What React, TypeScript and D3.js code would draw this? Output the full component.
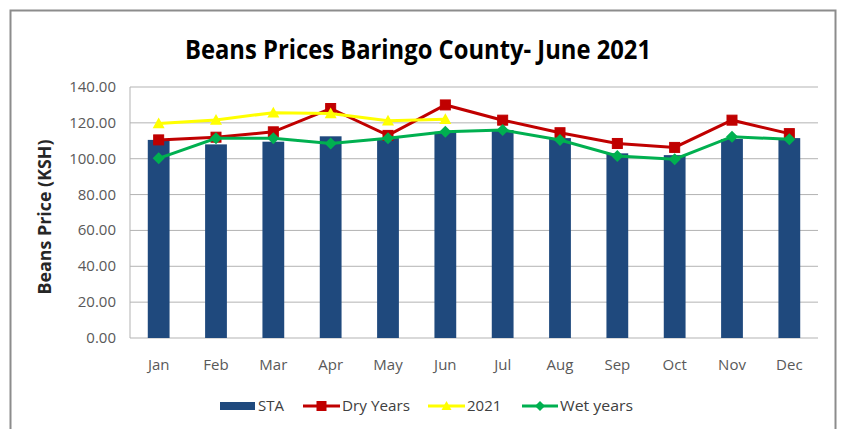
import React from "react";
import * as d3 from "d3";

const months = ["Jan", "Feb", "Mar", "Apr", "May", "Jun", "Jul", "Aug", "Sep", "Oct", "Nov", "Dec"];
const staValues = [110.5, 108, 109.5, 112.5, 111.5, 115, 116, 111.5, 103, 102, 111, 111.5];
const dryYears = [110.5, 112, 115, 128, 113, 130, 121.5, 114.5, 108.5, 106.3, 121.5, 114];
const y2021 = [119.7, 121.6, 125.7, 125.2, 121.2, 122];
const wetYears = [100.2, 111.4, 111.4, 108.5, 111.4, 115, 116, 110.4, 101.5, 99.7, 112.3, 110.8];
const yTicks = [0, 20, 40, 60, 80, 100, 120, 140];

const W = 841;
const H = 429;
const FONT = "'Open Sans', 'DejaVu Sans', sans-serif";
const plot = { left: 130, right: 818, top: 87, bottom: 338 };

export default function App() {
  const x = d3.scaleBand<string>().domain(months).range([plot.left, plot.right]).paddingInner(0.62).paddingOuter(0.31);
  const y = d3.scaleLinear().domain([0, 140]).range([plot.bottom, plot.top]);
  const cx = (m: string) => (x(m) as number) + x.bandwidth() / 2;
  const line = d3.line<number>().x((_, i) => cx(months[i])).y((v) => y(v));

  const square = (px: number, py: number, k: string, s = 10) => (
    <rect key={k} x={px - s / 2} y={py - s / 2} width={s} height={s} fill="#C00000" stroke="#C00000" />
  );
  const diamond = (px: number, py: number, k: string, s = 6) => (
    <path key={k} d={`M${px},${py - s}L${px + s},${py}L${px},${py + s}L${px - s},${py}Z`} fill="#00B050" />
  );
  const tri = (px: number, py: number, k: string, s = 6) => (
    <path key={k} d={`M${px},${py - s}L${px + s},${py + s * 0.8}L${px - s},${py + s * 0.8}Z`} fill="#FFFF00" />
  );

  const legendY = 406;
  return (
    <div style={{ position: "absolute", left: 0, top: 0 }}>
      <svg width={W} height={H} style={{ display: "block", background: "#fff" }}>
        <rect x={10.5} y={10.5} width={825} height={440} fill="#fff" stroke="#8c8c8c" strokeWidth={2} />
        <text x={418} y={59} textAnchor="middle" fontFamily={FONT} fontWeight="bold" fontSize={26} fill="#000" textLength={466} lengthAdjust="spacingAndGlyphs">
          Beans Prices Baringo County- June 2021
        </text>
        {yTicks.map((t) => (
          <g key={t}>
            <line x1={plot.left} x2={plot.right} y1={y(t)} y2={y(t)} stroke="#b3b3b3" strokeWidth={1} />
            <text x={116} y={y(t) + 5} textAnchor="end" fontFamily={FONT} fontSize={15} fill="#595959">
              {t.toFixed(2)}
            </text>
          </g>
        ))}
        <line x1={plot.left} x2={plot.left} y1={plot.top} y2={plot.bottom} stroke="#b3b3b3" />
        <text transform={`translate(51,${217}) rotate(-90)`} textAnchor="middle" fontFamily={FONT} fontWeight="bold" fontSize={17} fill="#262626" textLength={155} lengthAdjust="spacingAndGlyphs">
          Beans Price (KSH)
        </text>
        {months.map((m, i) => (
          <g key={m}>
            <rect x={x(m)} y={y(staValues[i])} width={x.bandwidth()} height={y(0) - y(staValues[i])} fill="#1F497D" />
            <text x={cx(m)} y={370} textAnchor="middle" fontFamily={FONT} fontSize={15} fill="#595959">
              {m}
            </text>
          </g>
        ))}
        <path d={line(dryYears) as string} fill="none" stroke="#C00000" strokeWidth={3} />
        {dryYears.map((v, i) => square(cx(months[i]), y(v), "d" + i))}
        <path d={line(y2021) as string} fill="none" stroke="#FFFF00" strokeWidth={3} />
        {y2021.map((v, i) => tri(cx(months[i]), y(v), "y" + i))}
        <path d={line(wetYears) as string} fill="none" stroke="#00B050" strokeWidth={3} />
        {wetYears.map((v, i) => diamond(cx(months[i]), y(v), "w" + i))}

        <g fontFamily={FONT} fontSize={15} fill="#404040">
          <rect x={220} y={legendY - 4} width={35} height={8} fill="#1F497D" />
          <text x={258} y={legendY + 5}>STA</text>
          <line x1={303} x2={340} y1={legendY} y2={legendY} stroke="#C00000" strokeWidth={3} />
          {square(321.5, legendY, "ld", 9)}
          <text x={342} y={legendY + 5} textLength={68} lengthAdjust="spacingAndGlyphs">Dry Years</text>
          <line x1={428} x2={465} y1={legendY} y2={legendY} stroke="#FFFF00" strokeWidth={3} />
          {tri(446.5, legendY, "ly", 5)}
          <text x={467} y={legendY + 5}>2021</text>
          <line x1={522} x2={558} y1={legendY} y2={legendY} stroke="#00B050" strokeWidth={3} />
          {diamond(540, legendY, "lw", 5)}
          <text x={560} y={legendY + 5} textLength={73} lengthAdjust="spacingAndGlyphs">Wet years</text>
        </g>
      </svg>
    </div>
  );
}
